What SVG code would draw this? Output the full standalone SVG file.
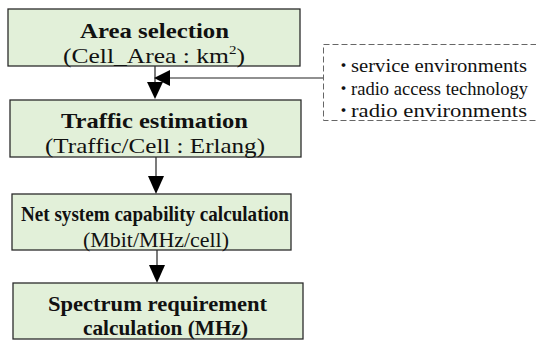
<svg xmlns="http://www.w3.org/2000/svg" width="536" height="340" viewBox="0 0 536 340">
<defs>
<style>
.box{fill:#e2f0d9;stroke:#2b2b2b;stroke-width:1.3}
.t{font-family:"Liberation Serif","Times New Roman",serif;font-size:22px;fill:#111}
.b{font-weight:bold}
.s{font-family:"Liberation Serif","Times New Roman",serif;font-size:19.5px;fill:#111}
.dot{font-family:"Noto Sans CJK JP",sans-serif;font-size:15px;font-weight:bold;fill:#111}
.ln{stroke:#222;stroke-width:1.2;fill:none}
.ah{fill:#000}
</style>
</defs>
<rect width="536" height="340" fill="#fff"/>
<g id="connectors">
<line class="ln" x1="155" y1="66" x2="155" y2="84"/>
<polygon class="ah" points="147,82 163,82 155,99"/>
<line class="ln" x1="323" y1="78" x2="168" y2="78"/>
<polygon class="ah" points="170,70 170,86 154,78"/>
<line class="ln" x1="156" y1="157" x2="156" y2="178"/>
<polygon class="ah" points="148,176 164,176 156,194"/>
<line class="ln" x1="157" y1="250" x2="157" y2="267"/>
<polygon class="ah" points="149,265 165,265 157,283"/>
</g>
<g id="area">
<rect class="box" x="8" y="9" width="292" height="57"/>
<text class="t b" x="80" y="38" textLength="149" lengthAdjust="spacingAndGlyphs">Area  selection</text>
<text class="t" x="63" y="63" textLength="182" lengthAdjust="spacingAndGlyphs">(Cell_Area  :  km<tspan font-size="13" dy="-9">2</tspan><tspan dy="9">)</tspan></text>
</g>
<g id="traffic">
<rect class="box" x="10" y="100" width="291" height="57"/>
<text class="t b" x="61" y="128" textLength="187" lengthAdjust="spacingAndGlyphs">Traffic  estimation</text>
<text class="t" x="45" y="153" textLength="220" lengthAdjust="spacingAndGlyphs">(Traffic/Cell  :  Erlang)</text>
</g>
<g id="capability">
<rect class="box" x="12" y="194" width="279" height="56"/>
<text class="t b" x="21" y="221" textLength="268" lengthAdjust="spacingAndGlyphs">Net system capability calculation</text>
<text class="t" x="83" y="247" textLength="146" lengthAdjust="spacingAndGlyphs">(Mbit/MHz/cell)</text>
</g>
<g id="spectrum">
<rect class="box" x="13" y="283" width="290" height="56"/>
<text class="t b" x="48" y="311" textLength="219" lengthAdjust="spacingAndGlyphs">Spectrum  requirement</text>
<text class="t b" x="83" y="335" textLength="165" lengthAdjust="spacingAndGlyphs">calculation  (MHz)</text>
</g>
<g id="factors">
<rect x="323.5" y="44.5" width="230" height="76" fill="none" stroke="#666" stroke-width="1" stroke-dasharray="6,3"/>
<text class="dot" x="336" y="71">・</text>
<text class="s" x="351" y="72" textLength="176" lengthAdjust="spacingAndGlyphs">service  environments</text>
<text class="dot" x="336" y="94">・</text>
<text class="s" x="351" y="95" textLength="177" lengthAdjust="spacingAndGlyphs">radio access technology</text>
<text class="dot" x="336" y="116">・</text>
<text class="s" x="351" y="117" textLength="176" lengthAdjust="spacingAndGlyphs">radio  environments</text>
</g>
</svg>
